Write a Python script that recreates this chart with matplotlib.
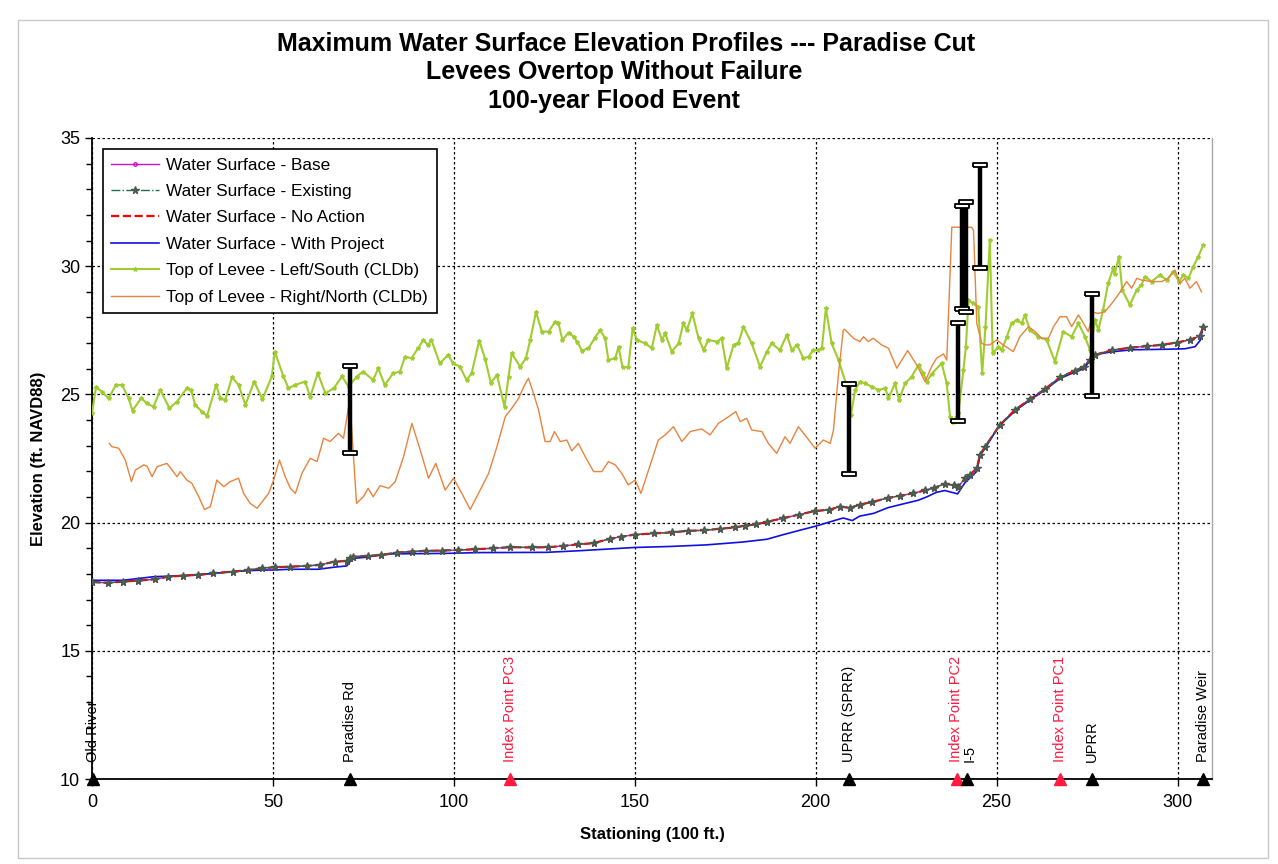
import matplotlib
matplotlib.use("Agg")
import matplotlib.pyplot as plt
from matplotlib.patches import Rectangle
from matplotlib.ticker import MultipleLocator

plt.rcParams['font.family'] = ['Liberation Sans', 'DejaVu Sans']

# ---- water surface profiles (stationing in 100 ft, elevation ft NAVD88) ----
ws_sta = [0.0, 4.5, 8.6, 12.8, 17.4, 21.1, 25.2, 29.4, 33.5, 39.0, 43.2, 46.9,
          50.6, 54.7, 59.3, 63.0, 67.1, 70.4, 71.3, 72.2, 76.3, 80.0, 84.2, 88.3,
          92.4, 96.6, 101.2, 105.8, 110.9, 115.5, 121.5, 126.1, 130.2, 134.3,
          138.7, 143.1, 146.1, 150.0, 155.4, 160.3, 164.8, 169.2, 173.6, 177.6,
          180.5, 183.5, 186.5, 190.9, 195.3, 199.7, 203.7, 206.6, 209.6, 212.1,
          215.5, 219.9, 223.4, 226.8, 230.3, 232.8, 235.7, 238.2, 239.4, 241.2,
          242.5, 244.5, 245.4, 246.8, 250.9, 255.0, 259.2, 263.3, 267.5, 271.6,
          274.0, 275.8, 277.3, 281.8, 286.8, 291.4, 295.6, 299.7, 303.4, 306.2,
          307.0]
ws_base = [17.68, 17.65, 17.70, 17.74, 17.79, 17.89, 17.93, 17.96, 18.02, 18.09,
           18.15, 18.22, 18.26, 18.28, 18.31, 18.35, 18.48, 18.50, 18.61, 18.67,
           18.70, 18.74, 18.83, 18.87, 18.90, 18.91, 18.93, 18.96, 19.00, 19.04,
           19.03, 19.04, 19.09, 19.15, 19.20, 19.37, 19.45, 19.53, 19.58, 19.62,
           19.68, 19.70, 19.76, 19.81, 19.88, 19.93, 20.03, 20.17, 20.31, 20.45,
           20.50, 20.62, 20.58, 20.70, 20.80, 20.96, 21.05, 21.14, 21.26, 21.36,
           21.52, 21.45, 21.40, 21.72, 21.85, 22.12, 22.65, 22.96, 23.81, 24.39,
           24.81, 25.20, 25.67, 25.92, 26.08, 26.34, 26.55, 26.72, 26.82, 26.88,
           26.93, 27.02, 27.13, 27.28, 27.62]
ws_existing = list(ws_base)
ws_no_action = list(ws_base)

wp_sta = [0.0, 8.6, 12.8, 17.0, 21.1, 25.2, 33.5, 39.0, 46.9, 50.0, 54.7, 62.6,
          66.8, 70.4, 71.3, 72.6, 75.8, 80.0, 83.2, 97.9, 107.1, 125.5, 134.3,
          150.0, 159.9, 169.7, 179.6, 186.5, 190.5, 195.3, 200.2, 204.2, 207.6,
          210.1, 212.1, 216.0, 219.9, 223.9, 228.3, 230.8, 233.3, 235.7, 239.2,
          241.2, 244.5, 245.4, 246.8, 250.5, 255.0, 259.2, 263.3, 267.5, 271.6,
          274.0, 276.2, 277.6, 281.8, 287.3, 296.5, 302.0, 304.8, 306.2, 306.8]
ws_with_project = [17.75, 17.75, 17.82, 17.89, 17.91, 17.93, 18.02, 18.09, 18.15,
                   18.15, 18.18, 18.18, 18.26, 18.31, 18.48, 18.61, 18.65, 18.74,
                   18.78, 18.80, 18.83, 18.84, 18.90, 19.03, 19.07, 19.13, 19.24,
                   19.35, 19.51, 19.69, 19.87, 20.04, 20.18, 20.08, 20.25, 20.36,
                   20.58, 20.72, 20.87, 21.01, 21.18, 21.25, 21.12, 21.55, 22.00,
                   22.62, 22.90, 23.74, 24.35, 24.78, 25.17, 25.62, 25.87, 26.00,
                   26.38, 26.56, 26.66, 26.74, 26.76, 26.78, 26.86, 27.10, 27.45]

# ---- top of levee, left/south bank ----
left_sta = [0.0, 1.1, 2.8, 4.6, 6.6, 8.3, 10.1, 11.2, 13.6, 15.2, 17.0, 18.9, 21.4,
            23.5, 26.2, 27.4, 28.5, 30.4, 31.8, 34.3, 35.5, 36.8, 38.7, 40.5, 42.4,
            44.8, 47.1, 49.7, 50.5, 52.9, 54.3, 56.2, 58.9, 60.3, 62.4, 64.5, 66.8,
            69.1, 70.9, 73.1, 74.9, 77.7, 79.1, 80.9, 83.2, 85.1, 86.5, 88.3, 90.1,
            91.5, 92.9, 93.8, 96.1, 98.4, 99.8, 101.7, 103.5, 104.9, 107.0, 108.6,
            110.2, 111.9, 114.0, 115.1, 116.0, 118.3, 119.9, 121.1, 122.7, 124.3,
            126.2, 128.0, 128.9, 130.0, 131.7, 133.1, 134.0, 135.4, 137.2, 138.9,
            140.4, 141.8, 142.7, 144.6, 145.5, 146.6, 148.2, 149.4, 150.6, 152.9,
            154.7, 156.1, 157.5, 158.4, 160.2, 162.1, 163.4, 164.4, 165.9, 167.6,
            169.0, 170.3, 172.7, 174.0, 175.4, 177.3, 178.6, 180.0, 182.3, 184.6,
            186.5, 187.8, 190.1, 192.0, 193.4, 194.8, 196.6, 198.0, 199.3, 200.7,
            201.7, 202.8, 204.4, 206.3, 208.6, 209.7, 210.9, 212.2, 213.6, 215.5,
            217.3, 219.2, 220.1, 221.9, 223.0, 224.7, 226.5, 228.4, 229.7, 230.7,
            232.0, 234.8, 236.2, 237.1, 238.0, 239.4, 240.8, 241.5, 242.2, 243.5,
            244.9, 246.0, 246.9, 248.1, 248.9, 250.5, 251.4, 252.8, 254.1, 255.5,
            256.9, 257.8, 259.2, 261.5, 263.8, 266.1, 268.4, 270.7, 272.6, 274.4,
            275.8, 277.2, 278.1, 279.4, 280.8, 282.2, 282.6, 283.8, 284.7, 286.8,
            288.7, 290.0, 291.0, 292.8, 295.1, 297.0, 298.8, 300.4, 301.6, 303.0,
            304.3, 305.7, 307.1]
left_elev = [24.26, 25.28, 25.10, 24.85, 25.37, 25.37, 24.85, 24.37, 24.85, 24.65,
             24.52, 25.17, 24.46, 24.72, 25.24, 25.17, 24.59, 24.33, 24.16, 25.37,
             24.85, 24.78, 25.67, 25.37, 24.59, 25.50, 24.82, 25.70, 26.67, 25.70,
             25.24, 25.37, 25.50, 24.91, 25.83, 25.04, 25.24, 25.70, 25.30, 25.69,
             25.89, 25.56, 26.02, 25.37, 25.82, 25.89, 26.47, 26.41, 26.80, 27.12,
             26.93, 27.12, 26.21, 26.54, 26.21, 26.08, 25.56, 25.82, 27.10, 26.40,
             25.45, 25.76, 24.52, 25.69, 26.60, 26.08, 26.41, 27.12, 28.22, 27.45,
             27.45, 27.84, 27.77, 27.12, 27.41, 27.25, 27.06, 26.71, 26.80, 27.19,
             27.51, 27.19, 26.34, 26.41, 26.86, 26.06, 26.06, 27.58, 27.12, 26.99,
             26.80, 27.71, 27.12, 27.38, 26.67, 26.99, 27.77, 27.51, 28.16, 27.19,
             26.73, 27.12, 27.06, 27.19, 26.02, 26.93, 26.99, 27.64, 26.99, 26.08,
             26.67, 26.99, 26.73, 27.32, 26.73, 26.93, 26.41, 26.47, 26.73, 26.73,
             26.80, 28.36, 26.99, 26.34, 25.30, 24.20, 25.17, 25.50, 25.43, 25.30,
             25.17, 25.24, 24.85, 25.43, 24.78, 25.43, 25.69, 26.15, 25.82, 25.50,
             25.80, 26.21, 25.43, 24.13, 23.94, 24.26, 25.95, 26.86, 28.68, 28.55,
             28.42, 25.82, 27.64, 31.02, 26.60, 26.86, 26.73, 27.25, 27.77, 27.90,
             27.77, 28.10, 27.51, 27.25, 27.12, 26.28, 27.45, 27.25, 27.77, 27.25,
             26.73, 27.90, 27.51, 28.29, 29.33, 29.92, 29.70, 30.37, 29.07, 28.49,
             29.07, 29.27, 29.59, 29.40, 29.66, 29.46, 29.79, 29.40, 29.66, 29.53,
             29.98, 30.37, 30.83]

# ---- top of levee, right/north bank ----
right_sta = [4.8, 5.5, 7.4, 9.2, 10.9, 12.0, 14.3, 15.2, 16.6, 18.0, 20.7, 21.6,
             23.5, 24.4, 26.2, 27.6, 29.5, 31.1, 32.7, 34.5, 36.4, 38.2, 40.5, 41.9,
             43.7, 45.6, 47.4, 48.8, 50.2, 51.8, 53.4, 54.8, 56.2, 58.0, 60.3, 62.2,
             64.0, 65.8, 68.1, 69.5, 70.9, 71.2, 73.1, 75.0, 76.3, 77.7, 79.6, 82.0,
             83.8, 86.1, 88.4, 90.7, 93.0, 95.0, 97.6, 99.9, 102.2, 104.5, 106.8,
             109.6, 111.9, 114.2, 116.0, 117.9, 119.3, 120.6, 122.0, 123.4, 125.2,
             126.6, 127.8, 129.4, 131.2, 132.6, 134.4, 136.3, 138.6, 140.9, 142.7,
             144.6, 146.4, 148.2, 150.1, 151.7, 153.8, 156.5, 158.4, 160.7, 163.0,
             165.3, 167.1, 168.5, 170.8, 173.1, 175.9, 177.9, 179.1, 180.9, 182.3,
             185.1, 186.9, 189.2, 191.5, 192.9, 195.2, 197.0, 199.8, 202.1, 204.0,
             204.9, 206.3, 207.6, 208.0, 210.4, 212.2, 213.2, 214.5, 215.9, 218.2,
             220.1, 222.4, 225.4, 227.9, 230.2, 232.0, 233.4, 235.3, 236.2, 237.6,
             243.1, 243.6, 244.5, 245.9, 246.8, 248.1, 250.0, 251.8, 253.2, 254.6,
             256.4, 258.8, 260.6, 262.4, 264.3, 265.7, 267.5, 269.3, 270.7, 272.6,
             274.0, 275.3, 276.7, 278.1, 279.9, 282.2, 284.5, 285.9, 287.3, 288.7,
             290.0, 292.8, 295.6, 297.4, 299.3, 300.6, 302.0, 303.4, 305.2, 306.6]
right_elev = [23.09, 22.96, 22.90, 22.44, 21.60, 22.05, 22.25, 22.20, 21.79, 22.18,
              22.31, 22.15, 21.79, 21.99, 21.66, 21.53, 21.01, 20.51, 20.62, 21.66,
              21.40, 21.60, 21.73, 21.14, 20.75, 20.56, 20.88, 21.14, 21.66, 22.44,
              21.79, 21.34, 21.14, 21.92, 22.51, 22.38, 23.29, 23.16, 23.48, 23.29,
              24.52, 24.90, 20.75, 21.01, 21.34, 21.01, 21.44, 21.34, 21.60, 22.57,
              23.87, 22.83, 21.73, 22.31, 21.27, 21.73, 21.14, 20.51, 21.14, 21.92,
              22.96, 24.13, 24.46, 24.85, 25.30, 25.63, 25.04, 24.39, 23.16, 23.16,
              23.55, 23.16, 23.22, 22.80, 23.09, 22.57, 21.99, 21.99, 22.38, 22.25,
              21.92, 21.47, 21.66, 21.14, 22.05, 23.22, 23.42, 23.74, 23.16, 23.55,
              23.61, 23.65, 23.42, 23.87, 24.13, 24.33, 23.94, 24.07, 23.61, 23.55,
              23.09, 22.70, 23.35, 23.09, 23.74, 23.42, 22.90, 23.22, 23.09, 23.61,
              25.82, 27.51, 27.54, 27.19, 27.06, 27.25, 27.06, 27.19, 26.93, 26.80,
              26.02, 26.71, 26.15, 25.50, 26.08, 26.41, 26.58, 26.34, 31.52, 31.52,
              31.40, 27.77, 26.99, 26.93, 26.93, 27.12, 26.93, 26.80, 26.67, 27.25,
              27.64, 27.45, 27.19, 27.19, 27.64, 28.03, 28.03, 27.64, 28.10, 27.77,
              27.45, 28.20, 28.16, 28.22, 28.62, 29.07, 29.40, 29.14, 29.53, 29.46,
              29.40, 29.40, 29.53, 29.85, 29.33, 29.53, 29.14, 29.40, 29.00]

# ---- vertical range bars ----
bar_sta = [71.2, 209.3, 239.2, 240.3, 241.4, 245.3, 276.4]
bar_low = [22.70, 21.90, 23.95, 28.35, 28.20, 29.93, 24.92]
bar_high = [26.10, 25.40, 27.80, 32.35, 32.50, 33.95, 28.90]

# ---- landmarks along the channel ----
landmark_names = ["Old River", "Paradise Rd", "Index Point PC3", "UPRR (SPRR)",
                  "Index Point PC2", "I-5", "Index Point PC1", "UPRR", "Paradise Weir"]
landmark_sta = [0.4, 71.2, 115.6, 209.3, 238.9, 241.7, 267.6, 276.4, 306.9]
landmark_is_index = [False, False, True, False, True, False, True, False, False]
# small sideways nudge for labels whose stations sit very close together
label_shift = [0, 0, 0, 0, -0.2, 0.9, 0, 0, 0]

x_ticks = [0, 50, 100, 150, 200, 250, 300]
y_ticks = [10, 15, 20, 25, 30, 35]

RED_TXT = '#FF1A40'

fig = plt.figure(figsize=(12.78, 8.64), dpi=100)
fig.patch.set_facecolor('white')
ax = fig.add_axes([92 / 1278, 1 - 779 / 864, (1212 - 92) / 1278, (779 - 138) / 864])

# outer frame of the chart area
fig.add_artist(Rectangle((18 / 1278, 1 - 858 / 864), (1268 - 18) / 1278, (858 - 20) / 864,
                         transform=fig.transFigure, fill=False, edgecolor='#C8C8C8', lw=1.0))

# levee crests
ax.plot(left_sta, left_elev, color='#9FCC2E', lw=1.5, marker='*', ms=3,
        label='Top of Levee - Left/South (CLDb)', zorder=3)
ax.plot(right_sta, right_elev, color='#E8843E', lw=1.0,
        label='Top of Levee - Right/North (CLDb)', zorder=3)

# water surfaces
l_base, = ax.plot(ws_sta, ws_base, color='#D010D0', lw=1.0, marker='o', ms=2.5,
                  mfc='none', label='Water Surface - Base', zorder=4)
l_exist, = ax.plot(ws_sta, ws_existing, color='#207050', lw=1.0, ls='-.', marker='*',
                   ms=5.5, mec='#4A5A4A', mfc='#3E7D5F', label='Water Surface - Existing',
                   zorder=6)
l_noact, = ax.plot(ws_sta, ws_no_action, color='#FF0000', lw=1.6, ls='--',
                   label='Water Surface - No Action', zorder=5)
l_proj, = ax.plot(wp_sta, ws_with_project, color='#1010E0', lw=1.2,
                  label='Water Surface - With Project', zorder=4)

# range bars with hollow caps
cap = [(-1, -0.35), (1, -0.35), (1, 0.35), (-1, 0.35), (-1, -0.35)]
ax.vlines(bar_sta, bar_low, bar_high, colors='black', lw=3.2, zorder=7)
ax.plot(bar_sta, bar_low, ls='none', marker=cap, ms=10, mfc='white', mec='black',
        mew=1.3, zorder=8)
ax.plot(bar_sta, bar_high, ls='none', marker=cap, ms=10, mfc='white', mec='black',
        mew=1.3, zorder=8)

# landmarks
for name, sta, idx, dx in zip(landmark_names, landmark_sta, landmark_is_index, label_shift):
    c = RED_TXT if idx else 'black'
    ax.plot([sta], [10], marker='^', color=c, ms=8, clip_on=False, zorder=9)
    ax.text(sta + dx, 10.68, name, rotation=90, ha='center', va='bottom',
            fontsize=10.5, color=c, zorder=9)

ax.set_xlim(0, 309.5)
ax.set_ylim(10, 35)
ax.set_xticks(x_ticks)
ax.set_yticks(y_ticks)
ax.yaxis.set_minor_locator(MultipleLocator(1))
ax.tick_params(axis='both', which='major', direction='out', length=5, width=1,
               labelsize=13, colors='black')
ax.tick_params(axis='y', which='minor', direction='out', length=4, width=1)
ax.tick_params(axis='x', which='major', pad=6)
ax.grid(True, which='major', color='black', lw=0.9, ls=(0, (2, 2)))
ax.set_axisbelow(True)

for s in ['left', 'bottom']:
    ax.spines[s].set_color('black')
    ax.spines[s].set_linewidth(1.3)
ax.spines['right'].set_color('#A8A8A8')
ax.spines['right'].set_linewidth(1.0)
ax.spines['top'].set_visible(False)

ax.set_xlabel('Stationing (100 ft.)', fontsize=12, fontweight='bold', labelpad=11)
ax.set_ylabel('Elevation (ft. NAVD88)', fontsize=12, fontweight='bold', labelpad=10)

# title block
title_lines = ['Maximum Water Surface Elevation Profiles --- Paradise Cut',
               'Levees Overtop Without Failure',
               '100-year Flood Event']
title_x = [626, 614, 614]
for i, line in enumerate(title_lines):
    fig.text(title_x[i] / 1278, 1 - (44 + 28.5 * i) / 864, line, ha='center',
             va='center', fontsize=18, fontweight='bold')

handles = [l_base, l_exist, l_noact, l_proj] + ax.get_lines()[:2]
leg = ax.legend(handles=handles, loc='upper left', bbox_to_anchor=(0.0095, 0.983),
                fontsize=12.4, frameon=True, fancybox=False, edgecolor='black',
                framealpha=1, numpoints=1, handlelength=2.8, labelspacing=0.66,
                borderpad=0.5, handletextpad=0.4, borderaxespad=0)
leg.get_frame().set_linewidth(1.2)
leg.set_zorder(10)

fig.savefig('out.png', dpi=100, facecolor='white')
